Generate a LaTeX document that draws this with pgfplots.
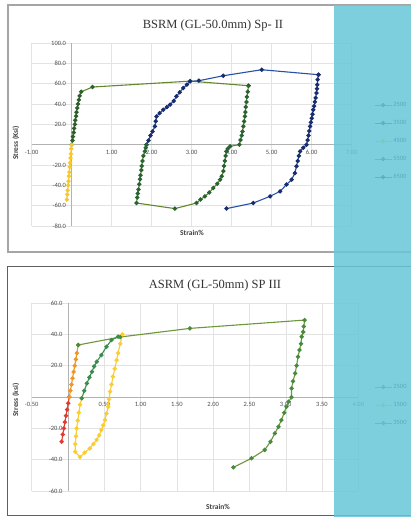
\documentclass[border=0pt]{standalone}
\usepackage{pgfplots}
\pgfplotsset{compat=1.18}
\usepackage{fontspec}
\setmainfont{Liberation Serif}
\newfontfamily\tickfont{Carlito}
\definecolor{sA}{RGB}{100,135,45}
\definecolor{sAm}{RGB}{45,95,45}
\definecolor{sB}{RGB}{40,80,170}
\definecolor{sC}{RGB}{250,200,40}
\definecolor{sD}{RGB}{40,100,50}
\definecolor{sE}{RGB}{25,45,110}
\definecolor{bA}{RGB}{110,150,60}
\definecolor{bAm}{RGB}{70,140,60}
\definecolor{bB}{RGB}{250,205,50}
\definecolor{bC}{RGB}{60,140,80}
\definecolor{bR}{RGB}{225,60,50}
\definecolor{bO}{RGB}{240,150,40}
\definecolor{cyanbg}{RGB}{104,199,217}
\definecolor{framegray}{RGB}{165,165,165}
\definecolor{framedark}{RGB}{95,95,95}
\pgfplotsset{
  mystyle/.style={
    scale only axis,
    axis lines=middle,
    axis line style={-, draw=gray!60, line width=0.6pt},
    grid=major,
    grid style={draw=gray!22, line width=0.4pt},
    tick style={draw=none},
    ticklabel style={font=\tickfont\fontsize{6.5}{7}\selectfont, text=black!70},
    /pgf/number format/assume math mode=true,
    clip=false,
    legend cell align=left,
    legend style={draw=none, fill=none, anchor=west,
      font=\tickfont\fontsize{6.5}{6.5}\selectfont, text=black,
      row sep=10.5pt, nodes={inner sep=1pt, text height=4.5pt, text depth=1pt}},
  },
  ser/.style={color=#1, line width=1.1pt, mark=*, mark size=1.6pt, mark options={solid}},
}
\begin{document}
\begin{tikzpicture}[x=1pt,y=1pt]
\path[use as bounding box] (0,0) rectangle (411,517);
\fill[white] (0,0) rectangle (411,517);
\draw[framegray, line width=1.3pt] (8,265) rectangle (440,512);
\draw[framedark, line width=1pt] (7.5,1) rectangle (440,250);

% ---------- top chart ----------
\begin{axis}[mystyle,
  at={(31.7pt,291pt)}, anchor=south west,
  width=320pt, height=183pt,
  xmin=-1, xmax=7, ymin=-80, ymax=100,
  xtick={-1,0,...,7}, ytick={-80,-60,...,100},
  xticklabel style={/pgf/number format/.cd, fixed, fixed zerofill, precision=2},
  yticklabel style={/pgf/number format/.cd, fixed, fixed zerofill, precision=1},
  legend style={at={(1.06,0.464)}},
]
\addplot[ser=sA, mark options={fill=sAm, draw=sAm}] coordinates {
(0,0) (0.02,4) (0.03,8) (0.05,12) (0.06,16) (0.08,20) (0.09,24) (0.11,28) (0.12,32) (0.14,36) (0.16,40) (0.18,44) (0.20,48) (0.24,52) (0.52,56.7) (2.96,62.5) (4.42,58)};
\addlegendentry{2500}
\addplot[ser=sB, mark options={fill=sE, draw=sE}] coordinates {
(1.87,0) (1.92,4) (1.97,9) (2.02,13) (2.08,18) (2.10,23) (2.12,27.8) (2.20,31) (2.29,34.4) (2.38,37) (2.46,39.3) (2.55,43) (2.62,47.5) (2.70,51.5) (2.79,55.7) (2.88,59) (2.96,62.3) (3.18,62.9) (3.79,67.8) (4.75,73.7) (6.17,68.8)};
\addlegendentry{3500}
\addplot[ser=sC, mark options={fill=sC, draw=sC}] coordinates {
(0.00,0) (-0.01,-4) (-0.02,-9) (-0.03,-13) (-0.04,-18) (-0.05,-22) (-0.06,-27) (-0.07,-31) (-0.08,-36) (-0.09,-40) (-0.10,-45) (-0.11,-49) (-0.12,-54)};
\addlegendentry{4500}
\addplot[ser=sA, mark options={fill=sD, draw=sD}] coordinates {
(4.42,58) (4.40,52) (4.38,47) (4.37,42) (4.35,37) (4.34,32) (4.33,27.8) (4.31,23) (4.29,18) (4.27,13) (4.25,9) (4.22,4.5) (4.19,0) (3.96,-1.6) (3.90,-4) (3.87,-6.6) (3.85,-11) (3.83,-16) (3.81,-21) (3.79,-26) (3.75,-31) (3.71,-34.4) (3.64,-38.5) (3.54,-42.6) (3.44,-47) (3.33,-50.8) (3.22,-54) (3.12,-57.4) (2.58,-62.9) (1.62,-57.4) (1.64,-52) (1.65,-48) (1.67,-44) (1.69,-39) (1.71,-34) (1.72,-30) (1.74,-25) (1.75,-21) (1.77,-16) (1.79,-11) (1.83,-6.6) (1.85,-3) (1.87,0)};
\addlegendentry{5500}
\addplot[ser=sB, mark options={fill=sE, draw=sE}] coordinates {
(6.17,68.8) (6.15,64) (6.14,59) (6.13,55) (6.12,50.8) (6.10,46) (6.08,42) (6.06,38) (6.04,34.4) (6.02,30) (6.00,26) (5.98,22) (5.96,18) (5.94,13.5) (5.92,9) (5.90,4.5) (5.87,0) (5.79,-3) (5.71,-6.6) (5.68,-11) (5.65,-16) (5.62,-21.3) (5.58,-27.9) (5.50,-34.4) (5.37,-39.3) (5.21,-45.9) (4.96,-50.8) (4.54,-57.4) (3.87,-62.9)};
\addlegendentry{6500}
\end{axis}

% ---------- bottom chart ----------
\begin{axis}[mystyle,
  at={(31.7pt,26pt)}, anchor=south west,
  width=326.6pt, height=188pt,
  xmin=-0.5, xmax=4, ymin=-60, ymax=60,
  xtick={-0.5,0,...,4}, ytick={-60,-40,...,60},
  xticklabel style={/pgf/number format/.cd, fixed, fixed zerofill, precision=2},
  yticklabel style={/pgf/number format/.cd, fixed, fixed zerofill, precision=1},
  legend style={at={(1.039,0.457)}},
]
\addplot[ser=bR, mark options={fill=bR, draw=bR}, forget plot] coordinates {
(0.018,0) (0.003,-4) (-0.012,-8) (-0.027,-12) (-0.042,-16) (-0.057,-20) (-0.072,-24) (-0.087,-28.5)};
\addplot[ser=bO, mark options={fill=bO, draw=bO}, forget plot] coordinates {
(0.018,0) (0.033,4) (0.048,8) (0.063,12) (0.078,16) (0.093,20) (0.108,24) (0.123,28) (0.14,33.2)};
\addplot[ser=bA, mark options={fill=bAm, draw=bAm}] coordinates {
(0.14,33.2) (0.72,38.3) (1.68,43.8) (3.26,49.1) (3.25,45) (3.24,41.5) (3.22,38.5) (3.21,34) (3.19,30) (3.17,25.7) (3.15,20) (3.13,15.1) (3.10,10) (3.08,5.5) (3.08,-0.2) (3.04,-3) (3.01,-6.2) (2.98,-10) (2.94,-14.7) (2.90,-19) (2.85,-23.2) (2.79,-28.5) (2.71,-33.8) (2.53,-39.1) (2.28,-44.9)};
\addlegendentry{2500}
\addplot[ser=bB, mark options={fill=bB, draw=bB}] coordinates {
(0.75,40) (0.72,34) (0.69,28) (0.67,23.6) (0.645,18) (0.62,13) (0.60,8) (0.58,3.4) (0.565,-1.5) (0.555,-6.2) (0.53,-10.5) (0.51,-14.7) (0.485,-18) (0.46,-21) (0.43,-24.5) (0.395,-27.4) (0.35,-30) (0.30,-32.8) (0.23,-35.5) (0.165,-38.3) (0.10,-35) (0.10,-30) (0.11,-25) (0.12,-20) (0.135,-15) (0.15,-10) (0.165,-5) (0.19,-0.8)};
\addlegendentry{1500}
\addplot[ser=bC, mark options={fill=bC, draw=bC}] coordinates {
(0.19,-0.8) (0.225,4) (0.26,8.7) (0.295,12.5) (0.33,16.1) (0.36,19.5) (0.395,22.5) (0.46,26.8) (0.53,32.1) (0.60,36.4) (0.69,38.5)};
\addlegendentry{3500}
\end{axis}

% titles and axis labels
\node[font=\fontsize{12.5}{14}\selectfont, text=black!80] at (213,492) {BSRM (GL-50.0mm) Sp- II};
\node[font=\fontsize{12.5}{14}\selectfont, text=black!80] at (215,232) {ASRM (GL-50mm) SP III};
\node[rotate=90, font=\tickfont\bfseries\fontsize{7.5}{8}\selectfont, text=black!75] at (16,374) {Stress (Ksi)};
\node[rotate=90, font=\tickfont\bfseries\fontsize{7.5}{8}\selectfont, text=black!75] at (16,117) {Stress (ksi)};
\node[font=\tickfont\bfseries\fontsize{7.5}{8}\selectfont, text=black!75] at (192,284) {Strain\%};
\node[font=\tickfont\bfseries\fontsize{7.5}{8}\selectfont, text=black!75] at (218,10) {Strain\%};

% cyan overlay panel
\fill[cyanbg, fill opacity=0.85] (334,0) rectangle (411,512);
\end{tikzpicture}
\end{document}
